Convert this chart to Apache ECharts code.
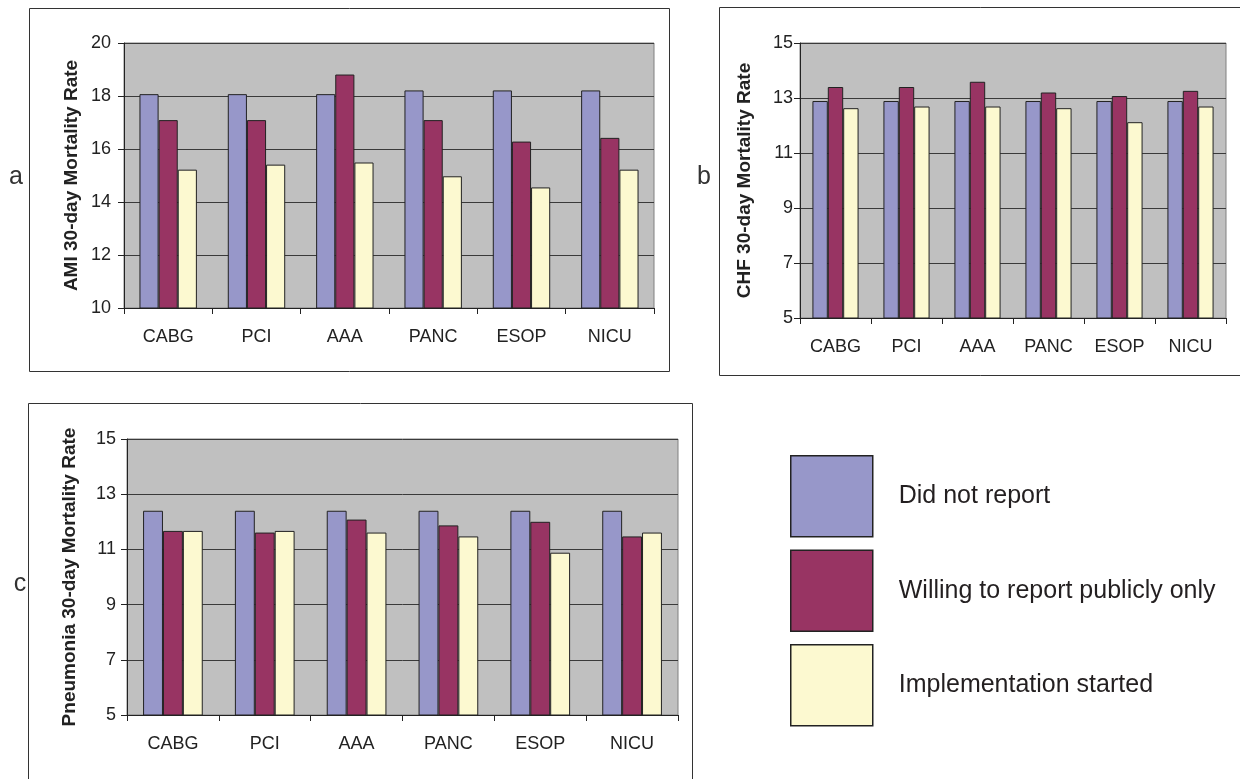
<!DOCTYPE html>
<html>
<head>
<meta charset="utf-8">
<script src="https://cdn.jsdelivr.net/npm/echarts@6/dist/echarts.min.js"></script>
<style>
html,body{margin:0;padding:0;background:#fff;}
#chart{width:1240px;height:779px;}
</style>
</head>
<body>
<div id="chart"></div>
<script>
const categories = ['CABG', 'PCI', 'AAA', 'PANC', 'ESOP', 'NICU'];
const seriesNames = ['Did not report', 'Willing to report publicly only', 'Implementation started'];

// Panel a: AMI 30-day mortality rate
const amiDidNot = [18.07, 18.07, 18.07, 18.21, 18.21, 18.21];
const amiWilling = [17.09, 17.09, 18.81, 17.09, 16.28, 16.42];
const amiImpl = [15.22, 15.41, 15.49, 14.97, 14.55, 15.22];

// Panel b: CHF 30-day mortality rate
const chfDidNot = [12.89, 12.89, 12.89, 12.89, 12.89, 12.89];
const chfWilling = [13.40, 13.40, 13.59, 13.20, 13.07, 13.26];
const chfImpl = [12.63, 12.69, 12.69, 12.63, 12.12, 12.69];

// Panel c: Pneumonia 30-day mortality rate
const pneDidNot = [12.40, 12.40, 12.40, 12.40, 12.40, 12.40];
const pneWilling = [11.67, 11.61, 12.08, 11.87, 12.00, 11.47];
const pneImpl = [11.67, 11.67, 11.61, 11.47, 10.88, 11.61];

const yTitles = ['AMI 30-day Mortality Rate', 'CHF 30-day Mortality Rate', 'Pneumonia 30-day Mortality Rate'];
const yRanges = [[10, 20, 2], [5, 15, 2], [5, 15, 2]];
const panelLetters = ['a', 'b', 'c'];

const colors = ['#9797c9', '#983463', '#fcf9d0'];
const FONT = 'Liberation Sans, Arial, sans-serif';

const chart = echarts.init(document.getElementById('chart'), null, {renderer: 'canvas'});

const grids = [
  {left: 124, top: 43, width: 530, height: 265},
  {left: 800, top: 43, width: 426, height: 275},
  {left: 127, top: 439, width: 551, height: 276}
];
const nameGaps = [43, 46, 48];
const labelMargins = [13, 7, 11];

const panelData = [
  [amiDidNot, amiWilling, amiImpl],
  [chfDidNot, chfWilling, chfImpl],
  [pneDidNot, pneWilling, pneImpl]
];

const xAxes = grids.map((g, i) => ({
  type: 'category',
  gridIndex: i,
  data: categories,
  axisLine: {lineStyle: {color: '#222', width: 1}},
  axisTick: {show: true, length: 6, lineStyle: {color: '#222'}},
  axisLabel: {color: '#222', fontSize: 18, fontFamily: FONT, margin: 20}
}));

const yAxes = grids.map((g, i) => ({
  type: 'value',
  gridIndex: i,
  min: yRanges[i][0],
  max: yRanges[i][1],
  interval: yRanges[i][2],
  name: yTitles[i],
  nameLocation: 'middle',
  nameGap: nameGaps[i],
  nameTextStyle: {fontSize: 19, fontWeight: 'bold', color: '#222', fontFamily: FONT},
  axisLine: {show: true, lineStyle: {color: '#222', width: 1}},
  axisTick: {show: true, length: 6, lineStyle: {color: '#222'}},
  axisLabel: {color: '#222', fontSize: 18, fontFamily: FONT, margin: labelMargins[i]},
  splitLine: {show: true, lineStyle: {color: '#3a3a3a', width: 1}}
}));

const series = [];
panelData.forEach((vals, p) => {
  vals.forEach((arr, s) => {
    series.push({
      name: seriesNames[s],
      type: 'bar',
      xAxisIndex: p,
      yAxisIndex: p,
      data: arr,
      barGap: '0%',
      barCategoryGap: '35%',
      itemStyle: {color: colors[s], borderColor: '#222', borderWidth: 1},
      emphasis: {disabled: true},
      animation: false
    });
  });
});

const letterFont = '25px ' + FONT;
const graphics = [
  {type: 'rect', shape: {x: 29.5, y: 8.5, width: 640, height: 363}, style: {fill: 'none', stroke: '#333', lineWidth: 1}, z: -1},
  {type: 'rect', shape: {x: 719.5, y: 7.5, width: 530, height: 368}, style: {fill: 'none', stroke: '#333', lineWidth: 1}, z: -1},
  {type: 'rect', shape: {x: 28.5, y: 403.5, width: 664, height: 400}, style: {fill: 'none', stroke: '#333', lineWidth: 1}, z: -1},
  {type: 'text', x: 16, y: 177, style: {text: panelLetters[0], font: letterFont, fill: '#333', textAlign: 'center', textVerticalAlign: 'middle'}},
  {type: 'text', x: 704, y: 177, style: {text: panelLetters[1], font: letterFont, fill: '#333', textAlign: 'center', textVerticalAlign: 'middle'}},
  {type: 'text', x: 20, y: 584, style: {text: panelLetters[2], font: letterFont, fill: '#333', textAlign: 'center', textVerticalAlign: 'middle'}}
];

chart.setOption({
  backgroundColor: '#fff',
  animation: false,
  grid: grids.map(g => Object.assign({show: true, backgroundColor: '#c0c0c0', borderColor: '#808080', borderWidth: 1}, g)),
  xAxis: xAxes,
  yAxis: yAxes,
  legend: {
    data: seriesNames,
    orient: 'vertical',
    left: 790,
    top: 455,
    padding: 0,
    itemWidth: 82,
    itemHeight: 81,
    itemGap: 12,
    icon: 'rect',
    itemStyle: {borderColor: '#222', borderWidth: 1.5},
    textStyle: {fontSize: 25, color: '#231f20', fontFamily: FONT, padding: [0, 0, 0, 21]},
    selectedMode: false
  },
  series: series,
  graphic: graphics
});
</script>
</body>
</html>
